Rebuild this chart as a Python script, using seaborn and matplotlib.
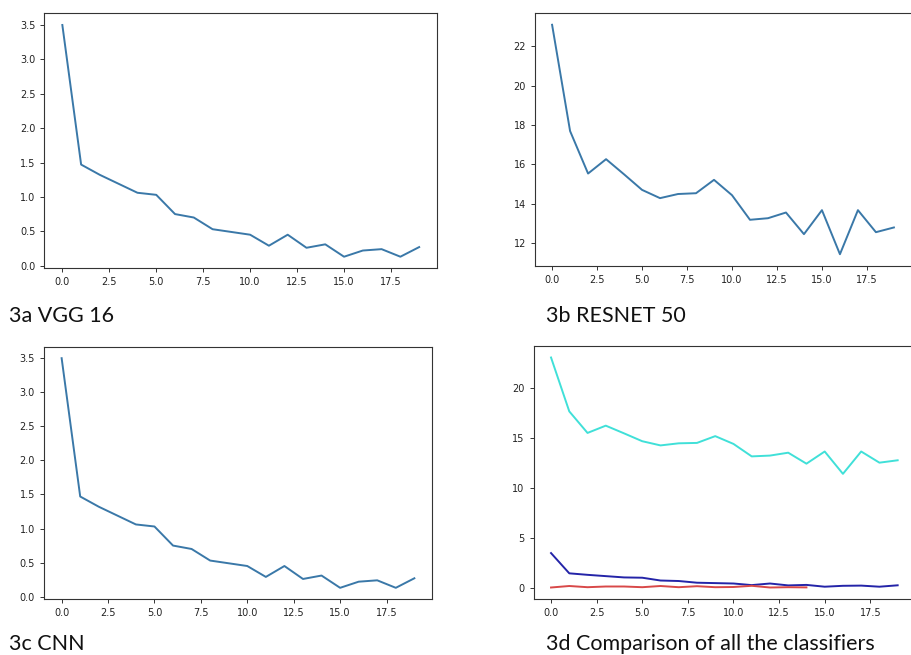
import matplotlib
matplotlib.use("Agg")
import matplotlib.pyplot as plt
import seaborn as sns
import pandas as pd

# loss per epoch
epochs = list(range(20))
vgg16_loss = [3.50, 1.47, 1.32, 1.19, 1.06, 1.03, 0.75, 0.70, 0.53, 0.49,
              0.45, 0.29, 0.45, 0.26, 0.31, 0.13, 0.22, 0.24, 0.13, 0.27]
resnet50_loss = [23.1, 17.7, 15.54, 16.27, 15.5, 14.71, 14.29, 14.5, 14.54, 15.22,
                 14.44, 13.19, 13.27, 13.56, 12.46, 13.68, 11.44, 13.68, 12.56, 12.8]
cnn_loss = [3.50, 1.47, 1.32, 1.19, 1.06, 1.03, 0.75, 0.70, 0.53, 0.49,
            0.45, 0.29, 0.45, 0.26, 0.31, 0.13, 0.22, 0.24, 0.13, 0.27]
other_epochs = list(range(15))
other_loss = [0.05, 0.20, 0.08, 0.15, 0.15, 0.08, 0.20, 0.08, 0.18, 0.08,
              0.10, 0.22, 0.05, 0.08, 0.06]

captions = ["3a VGG 16", "3b RESNET 50", "3c CNN", "3d Comparison of all the classifiers"]

W, H = 912, 655
fig = plt.figure(figsize=(W / 100, H / 100), dpi=100)


def add_ax(left, top, right, bottom):
    return fig.add_axes([left / W, 1 - bottom / H, (right - left) / W, (bottom - top) / H])


def style(ax):
    ax.tick_params(labelsize=7, length=3, width=0.7, colors="#333333", labelcolor="#222222")
    for s in ax.spines.values():
        s.set_linewidth(0.8)
        s.set_color("#333333")
    ax.set_xlabel("")
    ax.set_ylabel("")
    ax.set_xticks([0, 2.5, 5, 7.5, 10, 12.5, 15, 17.5])


line_col = "#3a78a8"

ax1 = add_ax(44.5, 13.4, 437, 268.3)
sns.lineplot(x=epochs, y=vgg16_loss, ax=ax1, color=line_col, lw=1.4)
style(ax1)

ax2 = add_ax(535, 13.3, 911, 265.7)
sns.lineplot(x=epochs, y=resnet50_loss, ax=ax2, color=line_col, lw=1.4)
style(ax2)
ax2.set_yticks([12, 14, 16, 18, 20, 22])
ax2.spines["right"].set_visible(False)

ax3 = add_ax(44, 346.7, 432, 599.3)
sns.lineplot(x=epochs, y=cnn_loss, ax=ax3, color=line_col, lw=1.4)
style(ax3)

ax4 = add_ax(533.7, 346, 915, 599)
sns.lineplot(x=epochs, y=resnet50_loss, ax=ax4, color="#40e0d8", lw=1.4)
sns.lineplot(x=epochs, y=vgg16_loss, ax=ax4, color="#2424a8", lw=1.4)
sns.lineplot(x=other_epochs, y=other_loss, ax=ax4, color="#d84848", lw=1.4)
style(ax4)
ax4.set_yticks([0, 5, 10, 15, 20])
ax4.spines["right"].set_visible(False)

cap_font = dict(family=["Lato", "DejaVu Sans"], fontsize=15.5, color="#111111", va="baseline")
fig.text(9 / W, 1 - 322 / H, captions[0], **cap_font)
fig.text(546 / W, 1 - 322 / H, captions[1], **cap_font)
fig.text(9 / W, 1 - 650 / H, captions[2], **cap_font)
fig.text(546 / W, 1 - 650 / H, captions[3], **cap_font)

fig.savefig("out.png", dpi=100)
